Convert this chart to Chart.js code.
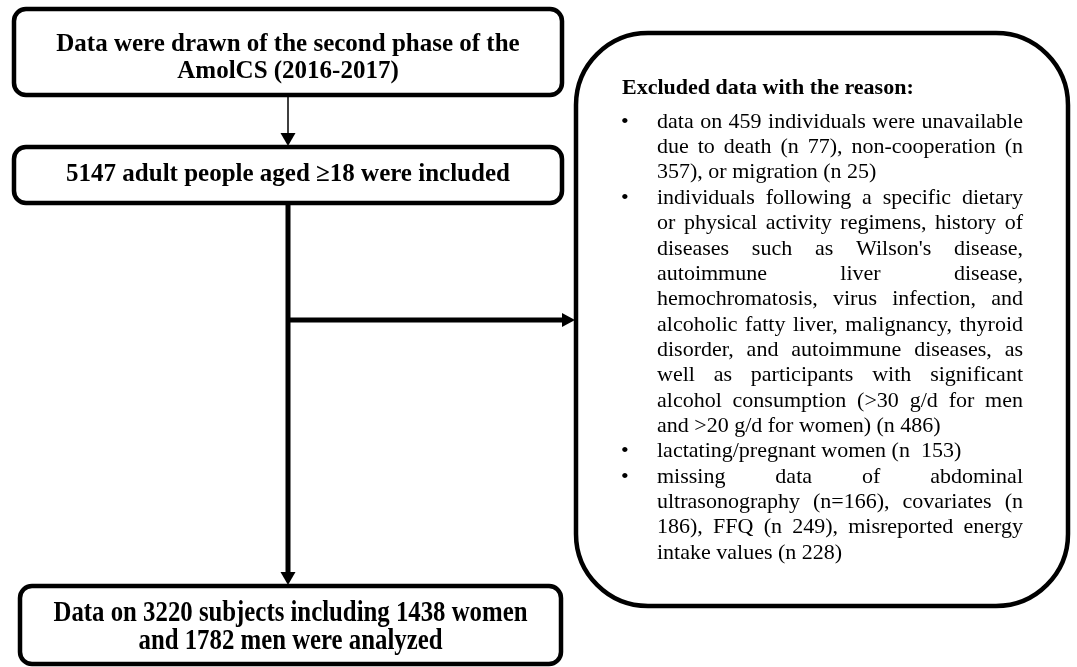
<!DOCTYPE html>
<html>
<head>
<meta charset="utf-8">
<title>AmolCS flow diagram</title>
<script src="https://cdn.jsdelivr.net/npm/chart.js@4/dist/chart.umd.min.js"></script>
<style>
  html, body { margin: 0; padding: 0; background: #fff; }
  #flow { display: block; }
</style>
</head>
<body>
<canvas id="flow" width="1077" height="667"></canvas>
<script>
// Participant counts shown in the diagram
const includedCount = 5147;
const analyzedCounts = [3220, 1438, 1782]; // total, women, men
const unavailableCounts = [459, 77, 357, 25]; // total, death, non-cooperation, migration
const otherExclusions = [486, 153];           // regimens/diseases/alcohol, lactating/pregnant
const missingCounts = [166, 186, 249, 228];   // ultrasonography, covariates, FFQ, energy intake

// Box texts (line breaks follow the original figure)
const stageLabels = [
    ['Data were drawn of the second phase of the', 'AmolCS (2016-2017)'],
    [includedCount + ' adult people aged \u226518 were included'],
    ['Data on ' + analyzedCounts[0] + ' subjects including ' + analyzedCounts[1] + ' women',
     'and ' + analyzedCounts[2] + ' men were analyzed']
];
const exclusionTitle = 'Excluded data with the reason:';
const exclusionItems = [
    ['data on ' + unavailableCounts[0] + ' individuals were unavailable',
     'due to death (n ' + unavailableCounts[1] + '), non-cooperation (n',
     unavailableCounts[2] + '), or migration (n ' + unavailableCounts[3] + ')'],
    ['individuals following a specific dietary',
     'or physical activity regimens, history of',
     "diseases such as Wilson's disease,",
     'autoimmune liver disease,',
     'hemochromatosis, virus infection, and',
     'alcoholic fatty liver, malignancy, thyroid',
     'disorder, and autoimmune diseases, as',
     'well as participants with significant',
     'alcohol consumption (>30 g/d for men',
     'and >20 g/d for women) (n ' + otherExclusions[0] + ')'],
    ['lactating/pregnant women (n  ' + otherExclusions[1] + ')'],
    ['missing data of abdominal',
     'ultrasonography (n=' + missingCounts[0] + '), covariates (n',
     missingCounts[1] + '), FFQ (n ' + missingCounts[2] + '), misreported energy',
     'intake values (n ' + missingCounts[3] + ')']
];

// Layout in diagram units (the scales map 1 unit to 1 pixel)
const layout = {
    boxes: [
        { x0: 14, y0: 9, x1: 562, y1: 95, r: 12, lines: [45, 72] },
        { x0: 14, y0: 147, x1: 562, y1: 203, r: 12, lines: [175] },
        { x0: 20, y0: 586, x1: 561, y1: 664, r: 12, lines: [614, 642] }
    ],
    side: { x0: 576, y0: 33, x1: 1068, y1: 606, r: 72 },
    trunkX: 288,
    branchY: 320
};

const serif = '"Liberation Serif", "Times New Roman", serif';

function roundBox(ctx, x0, y0, x1, y1, r) {
    ctx.beginPath();
    ctx.moveTo(x0 + r, y0);
    ctx.lineTo(x1 - r, y0);
    ctx.arcTo(x1, y0, x1, y0 + r, r);
    ctx.lineTo(x1, y1 - r);
    ctx.arcTo(x1, y1, x1 - r, y1, r);
    ctx.lineTo(x0 + r, y1);
    ctx.arcTo(x0, y1, x0, y1 - r, r);
    ctx.lineTo(x0, y0 + r);
    ctx.arcTo(x0, y0, x0 + r, y0, r);
    ctx.closePath();
}

function arrowHead(ctx, tipX, tipY, dir, len, half) {
    ctx.beginPath();
    if (dir === 'down') {
        ctx.moveTo(tipX, tipY);
        ctx.lineTo(tipX - half, tipY - len);
        ctx.lineTo(tipX + half, tipY - len);
    } else {
        ctx.moveTo(tipX, tipY);
        ctx.lineTo(tipX - len, tipY - half);
        ctx.lineTo(tipX - len, tipY + half);
    }
    ctx.closePath();
    ctx.fill();
}

function justifyLine(ctx, text, x, y, width, justify) {
    if (!justify) {
        ctx.fillText(text, x, y);
        return;
    }
    const words = text.split(/\s+/);
    const used = words.reduce((s, w) => s + ctx.measureText(w).width, 0);
    const gap = words.length > 1 ? (width - used) / (words.length - 1) : 0;
    let cx = x;
    words.forEach(w => {
        ctx.fillText(w, cx, y);
        cx += ctx.measureText(w).width + gap;
    });
}

const flowPlugin = {
    id: 'flowPlugin',
    afterDatasetsDraw(chart) {
        const ctx = chart.ctx;
        const sx = v => chart.scales.x.getPixelForValue(v);
        const sy = v => chart.scales.y.getPixelForValue(v);

        ctx.save();
        ctx.strokeStyle = '#000';
        ctx.fillStyle = '#000';
        ctx.lineJoin = 'round';

        // arrow heads
        const tx = sx(layout.trunkX);
        arrowHead(ctx, tx, sy(layout.boxes[1].y0) - 1, 'down', 13, 7.5);
        arrowHead(ctx, tx, sy(layout.boxes[2].y0) - 1, 'down', 13, 7.5);
        arrowHead(ctx, sx(layout.side.x0) - 1, sy(layout.branchY), 'right', 13, 7);

        // boxes
        ctx.lineWidth = 4.5;
        layout.boxes.forEach(b => {
            roundBox(ctx, sx(b.x0), sy(b.y0), sx(b.x1), sy(b.y1), b.r);
            ctx.fillStyle = '#fff';
            ctx.fill();
            ctx.stroke();
        });
        const s = layout.side;
        roundBox(ctx, sx(s.x0), sy(s.y0), sx(s.x1), sy(s.y1), s.r);
        ctx.fillStyle = '#fff';
        ctx.fill();
        ctx.stroke();

        // box labels
        ctx.fillStyle = '#000';
        ctx.textBaseline = 'middle';
        ctx.textAlign = 'center';
        stageLabels.forEach((lines, i) => {
            const b = layout.boxes[i];
            const cx = sx((b.x0 + b.x1) / 2);
            lines.forEach((line, j) => {
                if (i === 2) {
                    // the last box uses a narrower bold face
                    ctx.save();
                    ctx.translate(cx, sy(b.lines[j]));
                    ctx.scale(0.87, 1);
                    ctx.font = 'bold 28.5px ' + serif;
                    ctx.fillText(line, 0, 0);
                    ctx.restore();
                } else {
                    ctx.font = 'bold 25px ' + serif;
                    ctx.fillText(line, cx, sy(b.lines[j]));
                }
            });
        });

        // exclusion list
        ctx.textAlign = 'left';
        ctx.font = 'bold 22px ' + serif;
        ctx.fillText(exclusionTitle, sx(622), sy(88));
        ctx.font = '22px ' + serif;
        const textX = sx(657), textW = sx(1023) - sx(657);
        let row = 0;
        exclusionItems.forEach(item => {
            ctx.fillText('\u2022', sx(621), sy(122 + row * 25.35));
            item.forEach((line, k) => {
                const last = k === item.length - 1;
                justifyLine(ctx, line, textX, sy(122 + row * 25.35), textW, !last);
                row++;
            });
        });
        ctx.restore();
    }
};

// connector segments, drawn as line datasets through the scales
const connectors = [
    { pts: [[layout.trunkX, 95], [layout.trunkX, 136]], width: 1.5 },
    { pts: [[layout.trunkX, 203], [layout.trunkX, 575]], width: 5 },
    { pts: [[layout.trunkX, layout.branchY], [564, layout.branchY]], width: 5 }
];

new Chart(document.getElementById('flow'), {
    type: 'scatter',
    data: {
        datasets: connectors.map(c => ({
            data: c.pts.map(p => ({ x: p[0], y: p[1] })),
            showLine: true,
            borderColor: '#000',
            borderWidth: c.width,
            pointRadius: 0,
            borderCapStyle: 'butt'
        }))
    },
    options: {
        responsive: false,
        animation: false,
        devicePixelRatio: 1,
        layout: { padding: 0 },
        plugins: { legend: { display: false }, tooltip: { enabled: false } },
        scales: {
            x: { type: 'linear', min: 0, max: 1077, display: false },
            y: { type: 'linear', min: 0, max: 667, reverse: true, display: false }
        }
    },
    plugins: [flowPlugin]
});
</script>
</body>
</html>
